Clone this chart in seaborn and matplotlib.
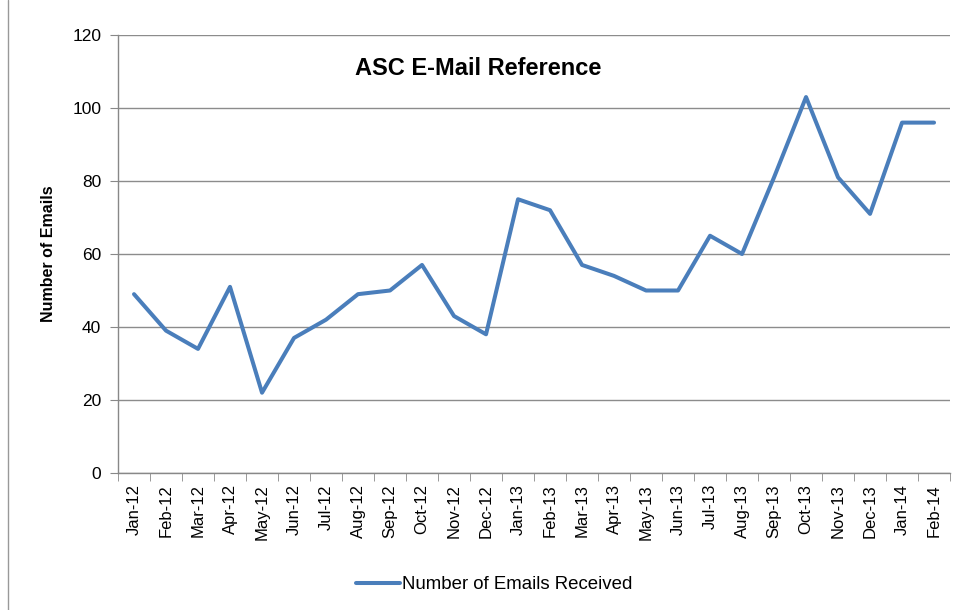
import numpy as np
import pandas as pd
import seaborn as sns
from matplotlib import pyplot as plt
from matplotlib.ticker import FixedLocator

months = ["Jan-12", "Feb-12", "Mar-12", "Apr-12", "May-12", "Jun-12", "Jul-12",
          "Aug-12", "Sep-12", "Oct-12", "Nov-12", "Dec-12", "Jan-13", "Feb-13",
          "Mar-13", "Apr-13", "May-13", "Jun-13", "Jul-13", "Aug-13", "Sep-13",
          "Oct-13", "Nov-13", "Dec-13", "Jan-14", "Feb-14"]
emails = [49, 39, 34, 51, 22, 37, 42, 49, 50, 57, 43, 38, 75, 72,
          57, 54, 50, 50, 65, 60, 81, 103, 81, 71, 96, 96]
y_ticks = [0, 20, 40, 60, 80, 100, 120]

sns.set_style("white")
plt.rcParams['font.family'] = ['Liberation Sans', 'DejaVu Sans']
plt.rcParams['text.color'] = 'black'
plt.rcParams['xtick.color'] = 'black'
plt.rcParams['ytick.color'] = 'black'
plt.rcParams['axes.labelcolor'] = 'black'

dane = pd.DataFrame({"month": months, "emails": emails})

fig = plt.figure(figsize=(9.61, 6.10), dpi=100)
ax = fig.add_axes([0.1228, 0.2246, 0.8658, 0.718])

sns.lineplot(data=dane, x="month", y="emails", sort=False, color="#4a7ebb",
             linewidth=2.9, ax=ax, label="Number of Emails Received")

ax.set_xlim(-0.5, len(months) - 0.5)
ax.set_ylim(0, 120)
ax.set_yticks(y_ticks)
ax.set_yticklabels([str(v) for v in y_ticks], fontsize=12.5)
ax.set_xticks(range(len(months)))
ax.set_xticklabels(months, rotation=90, fontsize=12)
ax.xaxis.set_minor_locator(FixedLocator(np.arange(-0.5, len(months), 1)))
ax.tick_params(axis="x", which="major", length=0, pad=8)
ax.tick_params(axis="x", which="minor", length=6, color="#888888", direction="out", bottom=True)
ax.tick_params(axis="y", length=6, color="#888888", direction="out", left=True, pad=6)

ax.grid(axis="y", color="#8c8c8c", linewidth=1)
ax.set_axisbelow(True)
for s in ["top", "right"]:
    ax.spines[s].set_visible(False)
for s in ["left", "bottom"]:
    ax.spines[s].set_color("#888888")
    ax.spines[s].set_linewidth(1)

ax.set_xlabel("")
ax.set_ylabel("Number of Emails", fontsize=11.5, fontweight="bold", labelpad=12)

fig.text(0.4975, 0.888, "ASC E-Mail Reference", fontsize=17, fontweight="bold",
         ha="center", va="center")

ax.legend(loc="center", bbox_to_anchor=(0.452, -0.255), frameon=False,
          fontsize=13.4, handlelength=2.4, handletextpad=0.1)

# chart area border on the left
fig.add_artist(plt.Line2D([0.0085, 0.0085], [0, 1], color="#999999", linewidth=1))

fig.savefig("out.png", dpi=100)
